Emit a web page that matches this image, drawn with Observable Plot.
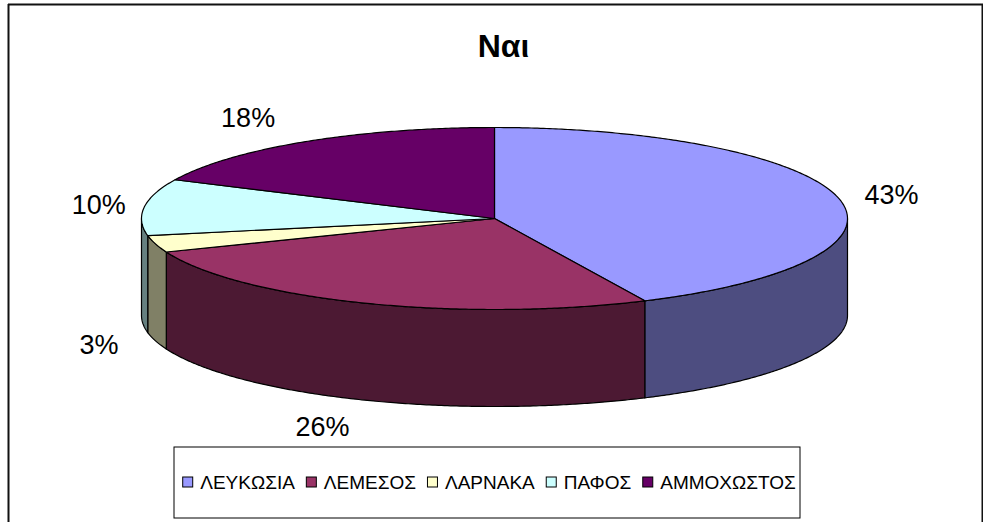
<!DOCTYPE html>
<html>
<head>
<meta charset="utf-8">
<script src="https://cdn.jsdelivr.net/npm/d3@7"></script>
<script src="https://cdn.jsdelivr.net/npm/@observablehq/plot@0.6"></script>
<style>
  html, body { margin: 0; padding: 0; background: #fff; }
  #chart svg { display: block; }
</style>
</head>
<body>
<div id="chart"></div>
<script>
// ---- data ----
const title = "Ναι";
const categories = ["ΛΕΥΚΩΣΙΑ", "ΛΕΜΕΣΟΣ", "ΛΑΡΝΑΚΑ", "ΠΑΦΟΣ", "ΑΜΜΟΧΩΣΤΟΣ"];
const values = [43, 26, 3, 10, 18];
const percentLabels = ["43%", "26%", "3%", "10%", "18%"];
const topColors = ["#9999FF", "#993366", "#FFFFCC", "#CCFFFF", "#660066"];
const sideColors = ["#4D4D80", "#4C1933", "#808066", "#668080", "#330033"];

// ---- layout ----
const W = 983, H = 522;
const cx = 494, cy = 218, rx = 353, ry = 91, depth = 97;
const FONT = "'Liberation Sans', Arial, sans-serif";

const total = d3.sum(values);
let acc = 0;
const slices = values.map((v, i) => {
  const a0 = acc / total * 360;
  acc += v;
  const a1 = acc / total * 360;
  return {i, a0, a1, name: categories[i], label: percentLabels[i]};
});

function pt(deg, dy = 0) {
  const t = deg * Math.PI / 180;
  return [cx + rx * Math.sin(t), cy - ry * Math.cos(t) + dy];
}
function arc(s, e, dy = 0) {
  const n = Math.max(2, Math.ceil(Math.abs(e - s) / 0.5));
  return d3.range(n + 1).map(k => pt(s + (e - s) * k / n, dy));
}

// top faces
const topPolys = slices.map(s => ({
  fill: topColors[s.i],
  pts: [[cx, cy], ...arc(s.a0, s.a1)]
}));
// side walls (front half only: 90..270 deg)
const sidePolys = slices.flatMap(s => {
  const a = Math.max(s.a0, 90), b = Math.min(s.a1, 270);
  if (a >= b) return [];
  return [{fill: sideColors[s.i], pts: [...arc(a, b), ...arc(b, a, depth)]}];
});

// labels: placed just outside the pie along the slice's mid angle
const labelData = slices.map(s => {
  const m = (s.a0 + s.a1) / 2 * Math.PI / 180;
  const c = Math.cos(m), sn = Math.sin(m);
  const r = 1.1 + 0.24 * Math.abs(c);
  return {
    x: cx + rx * r * sn,
    y: cy - ry * r * c + (c < 0 ? depth : 0),
    text: s.label
  };
});

// legend layout (measure text)
const ctx = document.createElement("canvas").getContext("2d");
const legendFontSize = 19;
ctx.font = `${legendFontSize}px ${FONT}`;
const sw = 10, gapSwatch = 7, gapItem = 12;
const widths = categories.map(c => ctx.measureText(c).width);
const totalW = d3.sum(widths) + categories.length * (sw + gapSwatch) + (categories.length - 1) * gapItem;
let lx = 489 - totalW / 2;
const legendItems = categories.map((c, i) => {
  const item = {x: lx, name: c, fill: topColors[i]};
  lx += sw + gapSwatch + widths[i] + gapItem;
  return item;
});
const legendY = 482;

const marks = [
  // outer frame
  Plot.ruleX([8], {y1: 4, y2: H, stroke: "#111", strokeWidth: 2}),
  Plot.ruleX([982], {y1: 4, y2: H, stroke: "#111", strokeWidth: 2}),
  Plot.ruleY([4], {x1: 8, x2: W, stroke: "#111", strokeWidth: 2}),
  // title
  Plot.text([title], {x: () => 503, y: () => 46, text: d => d, fontSize: 32, fontWeight: "bold", fill: "#000"}),
  // side walls
  ...sidePolys.map(p => Plot.line(p.pts, {x: d => d[0], y: d => d[1], curve: "linear-closed", fill: p.fill, stroke: "#000", strokeWidth: 1.2})),
  // top faces
  ...topPolys.map(p => Plot.line(p.pts, {x: d => d[0], y: d => d[1], curve: "linear-closed", fill: p.fill, stroke: "#000", strokeWidth: 1.2})),
  // percent labels
  Plot.text(labelData, {x: "x", y: "y", text: "text", fontSize: 27, fill: "#000"}),
  // legend box
  Plot.rect([0], {x1: () => 174, x2: () => 800, y1: () => 447, y2: () => 518, fill: "#fff", stroke: "#000", strokeWidth: 1}),
  Plot.rect(legendItems, {x1: d => d.x, x2: d => d.x + sw, y1: legendY - 5, y2: legendY + 5, fill: "fill", stroke: "#000", strokeWidth: 1}),
  Plot.text(legendItems, {x: d => d.x + sw + gapSwatch, y: () => legendY, text: "name", textAnchor: "start", fontSize: legendFontSize, fill: "#000"})
];

const chart = Plot.plot({
  width: W,
  height: H,
  margin: 0,
  style: {fontFamily: FONT, background: "#fff", overflow: "visible"},
  x: {domain: [0, W], range: [0, W], axis: null},
  y: {domain: [0, H], range: [0, H], axis: null},
  color: {type: "identity"},
  marks
});
document.getElementById("chart").appendChild(chart);
</script>
</body>
</html>
